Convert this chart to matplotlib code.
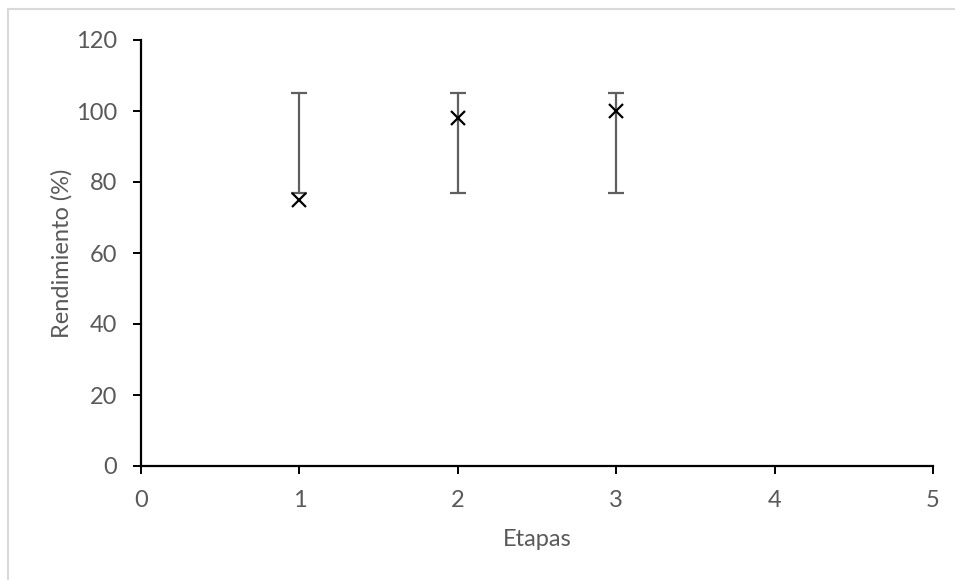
import matplotlib
matplotlib.use("Agg")
import matplotlib.pyplot as plt
from matplotlib.lines import Line2D

etapas = [1, 2, 3]
rendimiento = [75, 98, 100]
limite_inferior = [77, 77, 77]
limite_superior = [105, 105, 105]

x_ticks = [0, 1, 2, 3, 4, 5]
y_ticks = [0, 20, 40, 60, 80, 100, 120]

plt.rcParams['font.family'] = ['Lato', 'DejaVu Sans']

fig = plt.figure(figsize=(9.55, 5.8), dpi=100)
ax = fig.add_axes([141 / 955, 1 - 466 / 580, (933 - 141) / 955, (466 - 40) / 580])

# Error bars given as explicit lower/upper bounds
for xi, lo, hi in zip(etapas, limite_inferior, limite_superior):
    ax.errorbar([xi], [(lo + hi) / 2], yerr=[[(hi - lo) / 2], [(hi - lo) / 2]],
                fmt='none', ecolor='#5f5f5f', elinewidth=1.6, capsize=6,
                capthick=1.6, zorder=2)

ax.plot(etapas, rendimiento, linestyle='none', marker='x', markersize=10,
        markeredgewidth=1.6, color='black', zorder=3)

ax.set_xlim(0, 5)
ax.set_ylim(0, 120)
ax.set_xticks(x_ticks)
ax.set_yticks(y_ticks)

for side in ('top', 'right'):
    ax.spines[side].set_visible(False)
for side in ('left', 'bottom'):
    ax.spines[side].set_linewidth(1.6)
    ax.spines[side].set_color('black')

ax.tick_params(axis='both', direction='out', length=6, width=1.4,
               color='black', labelcolor='#595959', labelsize=17)
ax.tick_params(axis='y', pad=11)
ax.tick_params(axis='x', pad=11)

ax.set_xlabel('Etapas', fontsize=17, color='#595959', va='center')
ax.set_ylabel('Rendimiento (%)', fontsize=17, color='#595959', va='center')
ax.xaxis.set_label_coords(0.5, -(539 - 466) / 426)
ax.yaxis.set_label_coords(-(141 - 62) / 792, 0.5)

# Light chart-area frame along the top and left
fig.add_artist(Line2D([8 / 955, 1], [1 - 9 / 580, 1 - 9 / 580],
                      transform=fig.transFigure, color='#d9d9d9', linewidth=1.5))
fig.add_artist(Line2D([8 / 955, 8 / 955], [0, 1 - 9 / 580],
                      transform=fig.transFigure, color='#d9d9d9', linewidth=1.5))

fig.savefig('out.png', dpi=100, facecolor='white')
